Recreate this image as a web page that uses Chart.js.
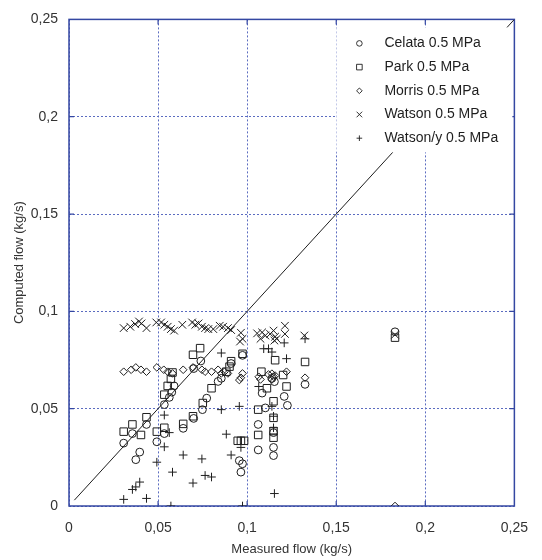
<!DOCTYPE html>
<html>
<head>
<meta charset="utf-8">
<script src="https://cdn.jsdelivr.net/npm/chart.js@4/dist/chart.umd.min.js"></script>
<style>
  html, body { margin: 0; padding: 0; background: #fff; }
  #wrap { width: 542px; height: 560px; }
</style>
</head>
<body>
<div id="wrap"><canvas id="flowChart" width="542" height="560"></canvas></div>
<script>
// measured vs computed flow, kg/s
const seriesNames = ["Celata 0.5 MPa", "Park 0.5 MPa", "Morris 0.5 MPa", "Watson 0.5 MPa", "Watson/y 0.5 MPa"];
const seriesStyles = ["circle", "rect", "rectRot", "crossRot", "cross"];
const seriesRadius = [3.9, 5.3, 3.8, 5.4, 4.3];

const celata = [
  [0.0307, 0.0323], [0.0356, 0.0372], [0.0375, 0.0238], [0.0397, 0.0277], [0.0435, 0.0419],
  [0.0493, 0.0330], [0.0535, 0.0372], [0.0535, 0.0521], [0.0563, 0.0558], [0.0577, 0.0585],
  [0.0590, 0.0617], [0.0641, 0.0399], [0.0700, 0.0450], [0.0740, 0.0745], [0.0749, 0.0495],
  [0.0700, 0.0706], [0.0773, 0.0554], [0.0837, 0.0640], [0.0855, 0.0656], [0.0910, 0.0732],
  [0.0956, 0.0233], [0.0974, 0.0217], [0.0965, 0.0174], [0.0974, 0.0774], [0.1084, 0.0580],
  [0.1102, 0.0504], [0.1062, 0.0419], [0.1062, 0.0288], [0.1148, 0.0377], [0.1148, 0.0301],
  [0.1148, 0.0259], [0.1153, 0.0639], [0.1208, 0.0563], [0.1226, 0.0517], [0.1325, 0.0625],
  [0.1139, 0.0656], [0.1830, 0.0895]
];
const park = [
  [0.0307, 0.0382], [0.0356, 0.0419], [0.0404, 0.0365], [0.0435, 0.0456], [0.0493, 0.0382],
  [0.0535, 0.0402], [0.0535, 0.0572], [0.0554, 0.0617], [0.0572, 0.0653], [0.0581, 0.0686],
  [0.0696, 0.0777], [0.0736, 0.0811], [0.0641, 0.0422], [0.0696, 0.0461], [0.0751, 0.0529],
  [0.0800, 0.0605], [0.0883, 0.0690], [0.0901, 0.0716], [0.0910, 0.0744], [0.0974, 0.0782],
  [0.0947, 0.0335], [0.0965, 0.0335], [0.0983, 0.0335], [0.1157, 0.0749], [0.1325, 0.0740],
  [0.1080, 0.0690], [0.1202, 0.0673], [0.1221, 0.0614], [0.1111, 0.0605], [0.1148, 0.0538],
  [0.1062, 0.0495], [0.1148, 0.0453], [0.1148, 0.0385], [0.1148, 0.0351], [0.1062, 0.0365],
  [0.1830, 0.0865]
];
const morris = [
  [0.0307, 0.0690], [0.0349, 0.0700], [0.0375, 0.0712], [0.0404, 0.0700], [0.0435, 0.0690],
  [0.0493, 0.0712], [0.0532, 0.0700], [0.0554, 0.0690], [0.0581, 0.0681], [0.0641, 0.0700],
  [0.0696, 0.0712], [0.0746, 0.0700], [0.0764, 0.0690], [0.0800, 0.0690], [0.0837, 0.0700],
  [0.0855, 0.0681], [0.0873, 0.0690], [0.0892, 0.0681], [0.0974, 0.0681], [0.0956, 0.0647],
  [0.0965, 0.0659], [0.1065, 0.0664], [0.1075, 0.0650], [0.1120, 0.0676], [0.1139, 0.0680],
  [0.1139, 0.0650], [0.1148, 0.0665], [0.1157, 0.0670], [0.1221, 0.0690], [0.1325, 0.0659],
  [0.1830, 0.0000]
];
const watson = [
  [0.0307, 0.0914], [0.0344, 0.0921], [0.0371, 0.0935], [0.0393, 0.0948], [0.0407, 0.0938],
  [0.0435, 0.0914], [0.0490, 0.0943], [0.0517, 0.0943], [0.0535, 0.0931], [0.0554, 0.0921],
  [0.0572, 0.0909], [0.0590, 0.0901], [0.0636, 0.0931], [0.0691, 0.0943], [0.0709, 0.0931],
  [0.0727, 0.0938], [0.0746, 0.0921], [0.0764, 0.0914], [0.0782, 0.0909], [0.0810, 0.0909],
  [0.0846, 0.0926], [0.0865, 0.0921], [0.0892, 0.0914], [0.0910, 0.0904], [0.0965, 0.0890],
  [0.0974, 0.0859], [0.0960, 0.0845], [0.1056, 0.0887], [0.1075, 0.0859], [0.1084, 0.0892],
  [0.1102, 0.0876], [0.1129, 0.0884], [0.1148, 0.0901], [0.1153, 0.0850], [0.1157, 0.0870],
  [0.1166, 0.0859], [0.1212, 0.0926], [0.1212, 0.0884], [0.1321, 0.0876], [0.1830, 0.0880]
];
const watsonY = [
  [0.0307, 0.0034], [0.0356, 0.0085], [0.0375, 0.0098], [0.0397, 0.0123], [0.0435, 0.0039],
  [0.0493, 0.0225], [0.0535, 0.0467], [0.0563, 0.0377], [0.0535, 0.0304], [0.0572, 0.0000],
  [0.0581, 0.0174], [0.0641, 0.0262], [0.0696, 0.0118], [0.0746, 0.0242], [0.0764, 0.0157],
  [0.0800, 0.0149], [0.0855, 0.0786], [0.0855, 0.0495], [0.0956, 0.0512], [0.0883, 0.0369],
  [0.0910, 0.0262], [0.0974, 0.0000], [0.0965, 0.0301], [0.1093, 0.0808], [0.1120, 0.0808],
  [0.1139, 0.0791], [0.1208, 0.0838], [0.1325, 0.0859], [0.1221, 0.0757], [0.1065, 0.0614],
  [0.1139, 0.0512], [0.1148, 0.0461], [0.1148, 0.0402], [0.1153, 0.0064]
];
// perfect-agreement line
const diagonal = [[0.003, 0.003], [0.25, 0.25]];

const axisMax = 0.25;
const axisStep = 0.05;

const gridBlue = "#5b6cc0";
const frameBlue = "#3447a2";
const ink = "#1e1e1e";

const toPts = arr => arr.map(p => ({ x: p[0], y: p[1] }));
const fmt = v => (Math.round(v * 100) / 100).toString().replace(".", ",");

const allSeries = [celata, park, morris, watson, watsonY];
const datasets = allSeries.map((arr, i) => ({
  label: seriesNames[i],
  data: toPts(arr),
  pointStyle: seriesStyles[i],
  pointRadius: seriesRadius[i],
  pointHoverRadius: seriesRadius[i],
  pointBorderColor: ink,
  pointBackgroundColor: "rgba(0,0,0,0)",
  pointBorderWidth: 1,
  showLine: false
}));
datasets.push({
  label: "diag",
  type: "line",
  data: toPts(diagonal),
  borderColor: ink,
  borderWidth: 1,
  pointRadius: 0,
  fill: false
});

function drawMarker(ctx, style, x, y, r) {
  ctx.beginPath();
  if (style === "circle") {
    ctx.arc(x, y, r, 0, Math.PI * 2);
  } else if (style === "rect") {
    ctx.rect(x - r, y - r, 2 * r, 2 * r);
  } else if (style === "rectRot") {
    ctx.moveTo(x - r, y); ctx.lineTo(x, y - r); ctx.lineTo(x + r, y); ctx.lineTo(x, y + r); ctx.closePath();
  } else if (style === "crossRot") {
    ctx.moveTo(x - r, y - r); ctx.lineTo(x + r, y + r);
    ctx.moveTo(x + r, y - r); ctx.lineTo(x - r, y + r);
  } else {
    ctx.moveTo(x - r, y); ctx.lineTo(x + r, y);
    ctx.moveTo(x, y - r); ctx.lineTo(x, y + r);
  }
  ctx.stroke();
}

// solid frame with short inward ticks, drawn over the dotted grid
const frame = {
  id: "frame",
  beforeDatasetsDraw(chart) {
    const { ctx, chartArea: a, scales } = chart;
    ctx.save();
    ctx.strokeStyle = frameBlue;
    ctx.lineWidth = 1.5;
    ctx.strokeRect(a.left, a.top, a.right - a.left, a.bottom - a.top);
    ctx.lineWidth = 1.2;
    ctx.beginPath();
    for (let v = axisStep; v < axisMax - 1e-9; v += axisStep) {
      const px = scales.x.getPixelForValue(v);
      const py = scales.y.getPixelForValue(v);
      ctx.moveTo(px, a.bottom); ctx.lineTo(px, a.bottom - 5);
      ctx.moveTo(px, a.top); ctx.lineTo(px, a.top + 5);
      ctx.moveTo(a.left, py); ctx.lineTo(a.left + 5, py);
      ctx.moveTo(a.right, py); ctx.lineTo(a.right - 5, py);
    }
    ctx.stroke();
    ctx.restore();
  }
};

// legend sits inside the plot, top right, on a white patch
const legendBox = {
  id: "legendBox",
  afterDatasetsDraw(chart) {
    const { ctx, chartArea: a } = chart;
    ctx.save();
    ctx.fillStyle = "#fff";
    ctx.fillRect(a.right - 178, a.top + 8, 176, 125);
    ctx.font = "14px 'Liberation Sans', Arial, sans-serif";
    ctx.textBaseline = "middle";
    ctx.strokeStyle = ink;
    ctx.fillStyle = ink;
    ctx.lineWidth = 0.9;
    seriesNames.forEach((name, i) => {
      const y = a.top + 24 + i * 23.7;
      drawMarker(ctx, seriesStyles[i], a.right - 155, y, 2.8);
      ctx.fillText(name, a.right - 130, y);
    });
    ctx.restore();
  }
};

new Chart(document.getElementById("flowChart"), {
  type: "scatter",
  data: { datasets },
  options: {
    responsive: false,
    animation: false,
    layout: { padding: { top: 13, right: 17, left: 0, bottom: 0 } },
    plugins: {
      legend: { display: false },
      tooltip: { enabled: false }
    },
    scales: {
      x: {
        type: "linear",
        min: 0,
        max: axisMax,
        afterFit: s => { s.height = 54; },
        grid: { color: gridBlue, lineWidth: 1, drawTicks: false },
        border: { display: false, dash: [2, 2] },
        ticks: {
          stepSize: axisStep,
          padding: 14,
          color: "#333",
          font: { family: "'Liberation Sans', Arial, sans-serif", size: 14 },
          callback: v => fmt(v)
        },
        title: {
          display: true,
          text: "Measured flow (kg/s)",
          color: "#333",
          font: { family: "'Liberation Sans', Arial, sans-serif", size: 13 },
          padding: { top: 0, bottom: 3 }
        }
      },
      y: {
        type: "linear",
        min: 0,
        max: axisMax,
        afterFit: s => { s.width = 69; },
        grid: { color: gridBlue, lineWidth: 1, drawTicks: false },
        border: { display: false, dash: [2, 2] },
        ticks: {
          stepSize: axisStep,
          padding: 11,
          color: "#333",
          font: { family: "'Liberation Sans', Arial, sans-serif", size: 14 },
          callback: v => fmt(v)
        },
        title: {
          display: true,
          text: "Computed flow (kg/s)",
          color: "#333",
          font: { family: "'Liberation Sans', Arial, sans-serif", size: 13 },
          padding: { top: 12, bottom: 0 }
        }
      }
    }
  },
  plugins: [frame, legendBox]
});
</script>
</body>
</html>
